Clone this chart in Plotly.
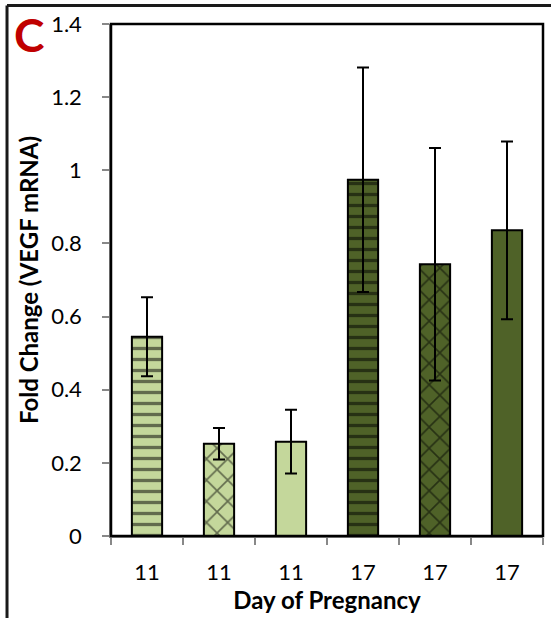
import plotly.graph_objects as go

# ---- data ----
days = ["11", "11", "11", "17", "17", "17"]
fold_change = [0.545, 0.252, 0.258, 0.974, 0.743, 0.836]
sem = [0.108, 0.043, 0.087, 0.307, 0.318, 0.243]
y_ticks = [0, 0.2, 0.4, 0.6, 0.8, 1.0, 1.2, 1.4]

# ---- styles ----
LIGHT = "#C4D79B"
DARK = "#4F6228"
fill_colors = [LIGHT, LIGHT, LIGHT, DARK, DARK, DARK]
pattern_shapes = ["-", "x", "", "-", "x", ""]
pattern_sizes = [11, 15, 8, 11, 15, 8]
pattern_solid = [0.3, 0.2, 0.2, 0.3, 0.2, 0.2]

positions = list(range(len(days)))

fig = go.Figure()
for i in positions:
    fig.add_trace(go.Bar(
        x=[positions[i]],
        y=[fold_change[i]],
        width=0.42,
        marker=dict(
            color=fill_colors[i],
            line=dict(color="black", width=2),
            pattern=dict(
                shape=pattern_shapes[i],
                fgcolor="black",
                bgcolor=fill_colors[i],
                size=pattern_sizes[i],
                solidity=pattern_solid[i],
                fillmode="overlay",
            ),
        ),
        error_y=dict(type="data", array=[sem[i]], visible=True,
                     color="black", thickness=2, width=6),
        showlegend=False,
    ))

FONT = "Lato"
fig.update_layout(
    width=551, height=618,
    margin=dict(l=111, r=8, t=24, b=82),
    paper_bgcolor="white",
    plot_bgcolor="white",
    barmode="overlay",
    font=dict(family=FONT, color="black", size=22),
    xaxis=dict(
        range=[-0.5, 5.5],
        tickmode="array",
        tickvals=positions,
        ticktext=days,
        ticks="",
        showline=True, linecolor="#888888", linewidth=1.5,
        showgrid=False, zeroline=False,
        tickfont=dict(family=FONT, size=22, color="black"),
        ticklabelstandoff=16,
        minor=dict(tickmode="linear", tick0=-0.5, dtick=1,
                   ticks="outside", ticklen=7, tickcolor="#888888",
                   tickwidth=1.5, showgrid=False),
        title=dict(text="<b>Day of Pregnancy</b>",
                   font=dict(family=FONT, size=24, color="black"),
                   standoff=4),
    ),
    yaxis=dict(
        range=[0, 1.4],
        tickmode="array",
        tickvals=y_ticks,
        ticks="outside", ticklen=7, tickcolor="#888888", tickwidth=1.5,
        showline=True, linecolor="#888888", linewidth=1.5,
        showgrid=False, zeroline=False,
        tickfont=dict(family=FONT, size=22, color="black"),
        ticklabelstandoff=16,
        title=dict(text="<b>Fold Change (VEGF mRNA)</b>",
                   font=dict(family=FONT, size=24, color="black"),
                   standoff=6),
    ),
    shapes=[
        # plot-area frame
        dict(type="rect", xref="paper", yref="paper", x0=0, x1=1, y0=0, y1=1,
             line=dict(color="black", width=2.5), layer="above"),
        # outer panel border (left and top)
        dict(type="line", xref="paper", yref="paper",
             x0=-0.2407, x1=-0.2407, y0=-0.2, y1=1.0361,
             line=dict(color="#1a1a1a", width=3)),
        dict(type="line", xref="paper", yref="paper",
             x0=-0.2407, x1=1.05, y0=1.0361, y1=1.0361,
             line=dict(color="#1a1a1a", width=3)),
    ],
    annotations=[
        dict(text="<b>C</b>", xref="paper", yref="paper",
             x=-0.19, y=0.9795, xanchor="center", yanchor="middle",
             showarrow=False, font=dict(family=FONT, size=46, color="#C00000")),
    ],
)

fig.write_html("out.html")
